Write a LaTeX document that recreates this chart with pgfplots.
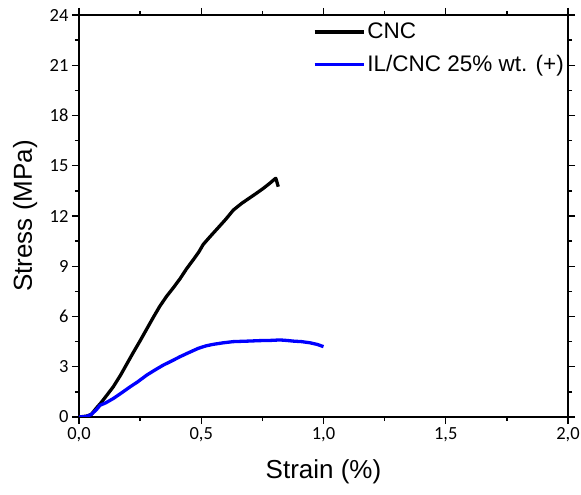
\documentclass[border=0pt]{standalone}
\usepackage{fontspec}
\setmainfont{Liberation Sans}
\newfontfamily\carlito{Carlito}
\usepackage{pgfplots}
\pgfplotsset{compat=1.18}
\begin{document}
\begin{tikzpicture}
\begin{axis}[name=ax, scale only axis, width=489pt, height=402pt,
  xmin=0, xmax=2, ymin=0, ymax=24,
  xtick={0,0.5,1,1.5,2}, ytick={0,3,6,9,12,15,18,21,24},
  minor x tick num=1, minor y tick num=1,
  tick align=outside, major tick length=7pt, minor tick length=4pt,
  axis line style={line width=1.4pt},
  every tick/.style={line width=1.3pt, black},
  xticklabel style={/pgf/number format/.cd, fixed, fixed zerofill, precision=1, use comma},
  /pgf/number format/assume math mode=true,
  ticklabel style={font=\carlito\fontsize{18.5}{20}\selectfont},
  xlabel={Strain (\%)}, ylabel={Stress (MPa)},
  label style={font=\fontsize{26}{29}\selectfont},
  xlabel style={at={(axis description cs:0.5,-0.137)}, anchor=center},
  ylabel style={at={(axis description cs:-0.110,0.5)}, anchor=center},
  legend style={draw=none, fill=none, at={(0.478,0.99)}, anchor=north west,
    font=\fontsize{22.5}{25}\selectfont, row sep=11pt, inner xsep=0pt},
  legend cell align=left,
  legend image code/.code={\draw[#1, line width=3.4pt] (0pt,0pt) -- (49pt,0pt);},
]
\addplot[black, line width=3.3pt, line join=round] coordinates {
(0,0) (0.03,0.05) (0.05,0.15) (0.072,0.55) (0.09,0.85) (0.106,1.15)
(0.14,1.8) (0.17,2.5) (0.195,3.15) (0.22,3.8) (0.25,4.55) (0.275,5.2)
(0.304,5.95) (0.33,6.6) (0.358,7.2) (0.385,7.7) (0.413,8.25) (0.44,8.85)
(0.468,9.4) (0.49,9.85) (0.508,10.3) (0.535,10.75) (0.563,11.2) (0.60,11.8)
(0.631,12.35) (0.665,12.75) (0.70,13.1) (0.73,13.4) (0.754,13.65) (0.78,13.95)
(0.80,14.2) (0.805,14.25) (0.815,13.75)
};
\addlegendentry{CNC}
\addplot[blue, line width=3.3pt, line join=round] coordinates {
(0,0) (0.03,0.03) (0.05,0.15) (0.072,0.45) (0.086,0.7) (0.11,0.85)
(0.14,1.1) (0.175,1.45) (0.209,1.8) (0.24,2.1) (0.277,2.5) (0.31,2.8)
(0.345,3.1) (0.38,3.35) (0.413,3.6) (0.45,3.85) (0.488,4.1) (0.52,4.25)
(0.55,4.34) (0.59,4.43) (0.631,4.5) (0.69,4.53) (0.74,4.56) (0.78,4.57)
(0.822,4.6) (0.85,4.57) (0.877,4.53) (0.91,4.5) (0.945,4.43) (0.975,4.33)
(1.0,4.2)
};
\addlegendentry{IL/CNC 25\% wt. (+)}
\end{axis}
\pgfresetboundingbox
\path[use as bounding box] ([shift={(-79pt,-78pt)}]ax.south west) rectangle ([shift={(13pt,15pt)}]ax.north east);
\end{tikzpicture}
\end{document}
